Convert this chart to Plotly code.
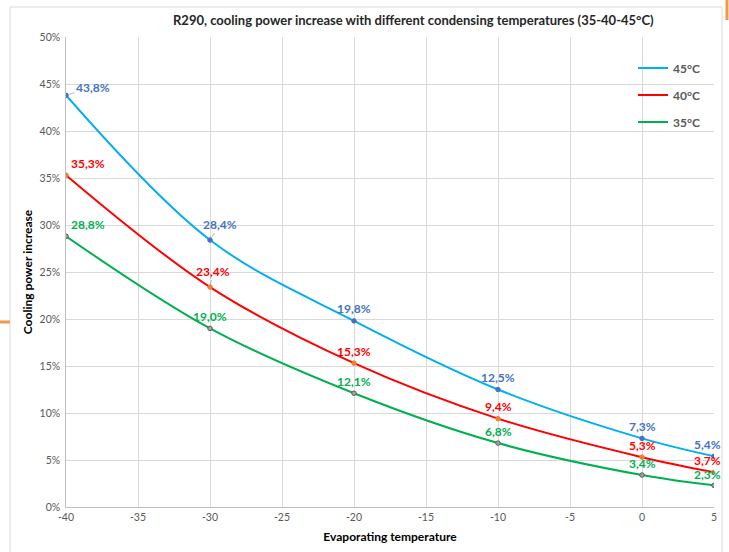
import plotly.graph_objects as go

evap_temp = [-40, -30, -20, -10, 0, 5]
series_names = ["45°C", "40°C", "35°C"]
inc_45 = [0.438, 0.284, 0.198, 0.125, 0.073, 0.054]
inc_40 = [0.353, 0.234, 0.153, 0.094, 0.053, 0.037]
inc_35 = [0.288, 0.190, 0.121, 0.068, 0.034, 0.023]
x_ticks = [-40, -35, -30, -25, -20, -15, -10, -5, 0, 5]
x_tick_labels = [str(v) for v in x_ticks]

line_colors = ["#00B0F0", "#FF0000", "#00B050"]
marker_colors = ["#4472C4", "#ED7D31", "#A5A5A5"]
marker_lines = ["#4472C4", "#ED7D31", "#595959"]
label_colors = ["#4472C4", "#FF0000", "#00B050"]
FONT = "Lato, Calibri, Arial, sans-serif"

fig = go.Figure()
for name, vals, lc, mc, ml in zip(series_names, [inc_45, inc_40, inc_35],
                                  line_colors, marker_colors, marker_lines):
    fig.add_trace(go.Scatter(
        x=evap_temp, y=vals, name=name, mode="lines+markers",
        line=dict(color=lc, width=2, shape="spline", smoothing=1.0),
        marker=dict(size=4.5, color=mc, line=dict(color=ml, width=1)),
        showlegend=False, hoverinfo="skip",
    ))
# legend entries (lines only, as in the reference)
for name, lc in zip(series_names, line_colors):
    fig.add_trace(go.Scatter(
        x=[None], y=[None], name=f"<b>{name}</b>", mode="lines",
        line=dict(color=lc, width=2), legendgroup=name, showlegend=True,
    ))

# data labels
leaders = {(0, 0): (27, -8), (0, 1): (10, -16), (1, 1): (3, -16)}
annotations = []
for si, (vals, col) in enumerate(zip([inc_45, inc_40, inc_35], label_colors)):
    for pi, (xv, yv) in enumerate(zip(evap_temp, vals)):
        txt = f"{yv*100:.1f}%".replace(".", ",")
        if (si, pi) in leaders:
            ax, ay = leaders[(si, pi)]
            annotations.append(dict(
                x=xv, y=yv, text=f"<b>{txt}</b>", showarrow=True,
                ax=ax, ay=ay, arrowhead=0, arrowwidth=0.8, arrowcolor="#A6A6A6",
                standoff=2, font=dict(family=FONT, size=12, color=col)))
        else:
            xs = 0
            ys = 12
            if pi == 0:
                xs = 22
            elif pi == len(evap_temp) - 1:
                xs = -7
                if si == 2:
                    ys = 11
            annotations.append(dict(
                x=xv, y=yv, text=f"<b>{txt}</b>", showarrow=False,
                xshift=xs, yshift=ys,
                font=dict(family=FONT, size=12, color=col)))

annotations.append(dict(
    x=0.537, y=(507 - 20) / 470, xref="paper", yref="paper", yanchor="middle",
    text="<b>R290, cooling power increase with different condensing temperatures (35-40-45°C)</b>",
    showarrow=False, font=dict(family=FONT, size=13, color="#262626")))

fig.update_layout(
    width=729, height=552,
    margin=dict(l=66, r=15, t=37, b=45),
    paper_bgcolor="white", plot_bgcolor="white",
    font=dict(family=FONT, color="#595959"),
    showlegend=True,
    legend=dict(x=0.875, y=0.965, xanchor="left", yanchor="top",
                bgcolor="rgba(0,0,0,0)", itemwidth=30, tracegroupgap=8,
                font=dict(family=FONT, size=12, color="#595959")),
    annotations=annotations,
    xaxis=dict(range=[-40, 5], tickvals=x_ticks, ticktext=x_tick_labels,
               showgrid=True, automargin=False,
               gridcolor="#D9D9D9", gridwidth=1, zeroline=False,
               showline=True, linecolor="#BFBFBF", linewidth=1,
               ticks="", tickfont=dict(family=FONT, size=10.5, color="#595959"),
               title=dict(text="<b>Evaporating temperature</b>", standoff=11,
                          font=dict(family=FONT, size=12, color="#000000"))),
    yaxis=dict(range=[0, 0.5], dtick=0.05, tickformat=".0%", showgrid=True,
               automargin=False,
               gridcolor="#D9D9D9", gridwidth=1, zeroline=False,
               showline=True, linecolor="#BFBFBF", linewidth=1,
               ticks="", ticksuffix=" ",
               tickfont=dict(family=FONT, size=10.5, color="#595959"),
               title=dict(text="<b>Cooling power increase</b>", standoff=4,
                          font=dict(family=FONT, size=12, color="#000000"))),
    shapes=[
        dict(type="rect", xref="paper", yref="paper",
             x0=(10 - 66) / 648, x1=(722 - 66) / 648,
             y0=(507 - 560) / 470, y1=(507 - 7) / 470,
             line=dict(color="#D9D9D9", width=1), layer="below"),
        dict(type="line", xref="paper", yref="paper",
             x0=(0 - 66) / 648, x1=(10 - 66) / 648,
             y0=(507 - 322) / 470, y1=(507 - 322) / 470,
             line=dict(color="#F79646", width=3)),
        dict(type="line", xref="paper", yref="paper",
             x0=(727 - 66) / 648, x1=(727 - 66) / 648,
             y0=(507 - 0) / 470, y1=(507 - 20) / 470,
             line=dict(color="#F79646", width=3)),
    ],
)

fig.write_html("out.html", config={"displayModeBar": False},
               post_script="document.body.style.margin='0';")
